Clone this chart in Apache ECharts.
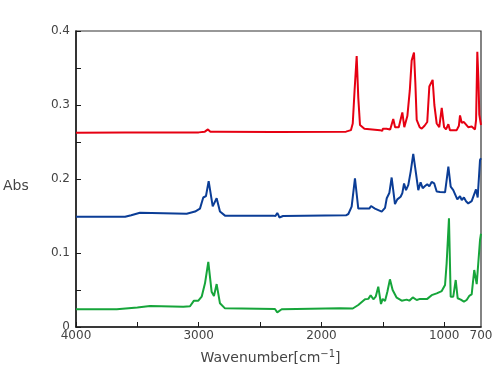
<!DOCTYPE html>
<html>
<head>
<meta charset="utf-8">
<script src="https://cdn.jsdelivr.net/npm/echarts@6/dist/echarts.min.js"></script>
<style>html,body{margin:0;padding:0;background:#fff}#c{width:500px;height:375px}</style>
</head>
<body>
<div id="c"></div>
<script>
// Data: [wavenumber (cm-1), absorbance]
const redSpectrum = [[4000,0.2625],[3600,0.2628],[3000,0.263],[2950,0.264],[2925,0.267],[2905,0.264],[2870,0.264],[2859,0.266],[2845,0.264],[2400,0.2635],[2370,0.2635],[2362,0.262],[2350,0.2635],[1800,0.264],[1760,0.266],[1745,0.275],[1730,0.32],[1713,0.366],[1700,0.31],[1686,0.273],[1650,0.268],[1523,0.266],[1505,0.265],[1500,0.268],[1490,0.266],[1470,0.268],[1440,0.267],[1415,0.281],[1400,0.270],[1370,0.270],[1341,0.290],[1325,0.270],[1300,0.285],[1280,0.320],[1265,0.360],[1246,0.371],[1235,0.33],[1224,0.280],[1200,0.270],[1183,0.268],[1160,0.272],[1138,0.277],[1121,0.325],[1110,0.323],[1094,0.334],[1080,0.30],[1061,0.275],[1040,0.270],[1020,0.296],[1001,0.270],[985,0.267],[966,0.274],[953,0.266],[898,0.266],[880,0.272],[871,0.286],[857,0.276],[839,0.277],[804,0.270],[776,0.271],[749,0.267],[740,0.28],[730,0.372],[720,0.33],[714,0.287],[700,0.273]];
const blueSpectrum = [[4000,0.149],[3600,0.149],[3587,0.151],[3550,0.151],[3479,0.1545],[3098,0.153],[3030,0.156],[2990,0.160],[2963,0.175],[2941,0.177],[2919,0.197],[2886,0.163],[2870,0.165],[2854,0.174],[2827,0.156],[2786,0.1505],[2395,0.1505],[2375,0.150],[2360,0.154],[2350,0.151],[2343,0.148],[2313,0.150],[1800,0.151],[1781,0.1527],[1754,0.1626],[1727,0.201],[1700,0.160],[1610,0.160],[1596,0.1635],[1564,0.160],[1509,0.156],[1482,0.161],[1468,0.174],[1447,0.181],[1428,0.202],[1401,0.166],[1382,0.1725],[1355,0.176],[1341,0.181],[1327,0.194],[1311,0.185],[1292,0.192],[1273,0.210],[1252,0.234],[1230,0.208],[1211,0.185],[1192,0.1955],[1175,0.1875],[1156,0.1905],[1138,0.193],[1121,0.190],[1102,0.196],[1081,0.194],[1061,0.183],[1034,0.1825],[993,0.182],[980,0.1986],[966,0.2166],[947,0.1896],[926,0.185],[893,0.1725],[871,0.177],[857,0.1716],[839,0.175],[822,0.170],[804,0.167],[776,0.170],[741,0.186],[727,0.175],[708,0.2257],[700,0.228]];
const greenSpectrum = [[4000,0.0239],[3668,0.024],[3500,0.0265],[3397,0.0284],[3126,0.0275],[3071,0.028],[3039,0.0356],[3003,0.0356],[2976,0.041],[2949,0.059],[2922,0.088],[2895,0.0477],[2876,0.042],[2854,0.058],[2827,0.032],[2786,0.0252],[2772,0.0243],[2379,0.0243],[2370,0.0257],[2360,0.0198],[2324,0.024],[1849,0.0252],[1745,0.025],[1700,0.0297],[1645,0.0374],[1618,0.038],[1599,0.043],[1577,0.0374],[1558,0.041],[1537,0.0545],[1515,0.031],[1501,0.038],[1482,0.035],[1463,0.0477],[1442,0.0644],[1420,0.050],[1387,0.0396],[1346,0.0356],[1306,0.037],[1284,0.0356],[1256,0.040],[1224,0.0365],[1197,0.038],[1138,0.038],[1102,0.043],[1061,0.0455],[1020,0.0486],[993,0.0568],[980,0.086],[961,0.147],[947,0.041],[926,0.041],[906,0.0635],[890,0.0388],[865,0.037],[839,0.0342],[817,0.0365],[796,0.042],[776,0.044],[755,0.077],[735,0.058],[722,0.060],[708,0.1176],[700,0.126]];

const xLabelValues = [4000, 3000, 2000, 1000, 700];
const xTickValues = [4000, 3500, 3000, 2500, 2000, 1500, 1000];
const yLabelValues = [0, 0.1, 0.2, 0.3, 0.4];
const yTickValues = [0, 0.05, 0.1, 0.15, 0.2, 0.25, 0.3, 0.35, 0.4];

const FONT = 'DejaVu Sans';
const chart = echarts.init(document.getElementById('c'), null, {renderer: 'canvas'});
chart.setOption({
  animation: false,
  backgroundColor: '#fff',
  grid: {left: 76, right: 19, top: 31, bottom: 48, show: true, borderColor: '#333', borderWidth: 1.2, backgroundColor: 'transparent'},
  xAxis: {
    type: 'value', inverse: true, min: 700, max: 4000,
    splitLine: {show: false},
    axisLine: {lineStyle: {color: '#1a1a1a', width: 1.5}},
    axisTick: {inside: true, length: 5, customValues: xTickValues, lineStyle: {color: '#1a1a1a'}},
    axisLabel: {customValues: xLabelValues, color: '#444', fontFamily: FONT, fontSize: 12, margin: 3,
      formatter: v => String(v)},
    name: 'Wavenumber[cm{sup|−1}]',
    nameLocation: 'middle', nameGap: 22,
    nameTextStyle: {color: '#444', fontFamily: FONT, fontSize: 14, padding: [0, 16, 0, 0],
      rich: {sup: {fontSize: 10, verticalAlign: 'top', padding: [0,0,8,0], color: '#444', fontFamily: FONT}}}
  },
  yAxis: {
    type: 'value', min: 0, max: 0.4,
    splitLine: {show: false},
    axisLine: {show: true, lineStyle: {color: '#1a1a1a', width: 1.5}},
    axisTick: {show: true, inside: true, length: 5, customValues: yTickValues, lineStyle: {color: '#1a1a1a'}},
    axisLabel: {customValues: yLabelValues, color: '#444', fontFamily: FONT, fontSize: 12, margin: 6,
      formatter: v => (v === 0 ? '0' : v.toFixed(1))}
  },
  graphic: [{type: 'text', left: 3, top: 179, style: {text: 'Abs', fill: '#444', font: '14px "' + FONT + '"'}}],
  series: [
    {type: 'line', data: redSpectrum, showSymbol: false, lineStyle: {color: '#e60012', width: 2}, itemStyle: {color: '#e60012'}},
    {type: 'line', data: blueSpectrum, showSymbol: false, lineStyle: {color: '#0b3d96', width: 2}, itemStyle: {color: '#0b3d96'}},
    {type: 'line', data: greenSpectrum, showSymbol: false, lineStyle: {color: '#16a53a', width: 2}, itemStyle: {color: '#16a53a'}}
  ]
});
</script>
</body>
</html>
